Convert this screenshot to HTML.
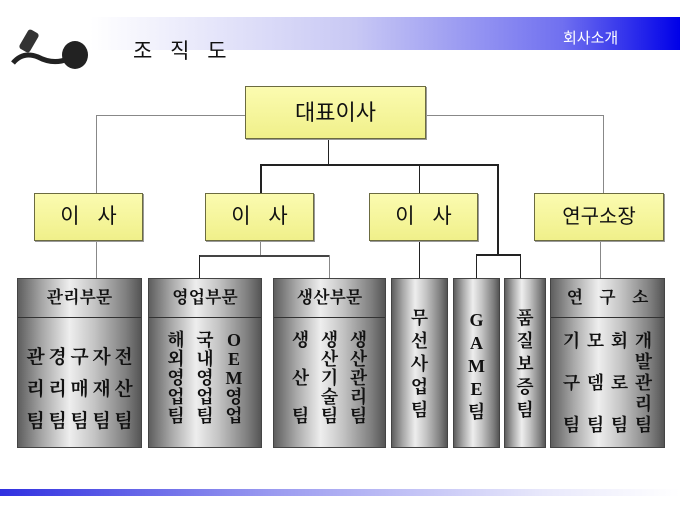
<!DOCTYPE html>
<html><head><meta charset="utf-8"><style>
body{margin:0;width:680px;height:510px;background:#fff;position:relative;overflow:hidden;font-family:"Liberation Sans","Noto Sans CJK KR",sans-serif}
.a{position:absolute}
.y{position:absolute;background:linear-gradient(#fbfbb0,#f0f08a);border:1px solid #6b6b40;box-shadow:1px 1px 0 #999;text-align:center;color:#111}
.c{position:absolute;border:1px solid #444;background:linear-gradient(90deg,#5e5e5e 0%,#a8a8a8 20%,#eeeeee 42%,#c4c4c4 62%,#7e7e7e 88%,#555 100%);font-family:"Liberation Serif","Noto Serif CJK SC","Noto Sans CJK KR",serif;font-weight:bold;color:#111;text-align:center}
.h{border-bottom:1px solid #333;height:38px;line-height:38px;font-size:17px}
.l{position:absolute;background:#222}
.g{background:#888}
table{border-collapse:collapse;margin:0 auto}
td{padding:0;text-align:center;vertical-align:middle}
</style></head><body>
<div class="a" style="left:90px;top:17px;width:590px;height:33px;background:linear-gradient(90deg,#fff,#c8c8f4 45%,#7070f0 80%,#0000e8)"></div>
<div class="a" style="left:563px;top:27px;color:#fff;font-size:15px">회사소개</div>
<div class="a" style="left:133px;top:35px;font-size:21px;color:#111;word-spacing:12px">조 직 도</div>
<svg class="a" style="left:5px;top:25px" width="85" height="50"><path d="M8 38 q10 -12 25 -6 q15 8 30 2" stroke="#222" stroke-width="5" fill="none"/><rect x="18" y="5" width="12" height="22" rx="3" fill="#333" transform="rotate(30 24 16)"/><ellipse cx="70" cy="30" rx="13" ry="14" fill="#222"/></svg>
<div class="a" style="left:0;top:489px;width:680px;height:7px;background:linear-gradient(90deg,#3030e0,#9a9af0 40%,#e8e8fb 80%,#fff)"></div>
<div class="l g" style="left:96px;top:115px;width:508px;height:1px"></div>
<div class="l g" style="left:96px;top:115px;width:1px;height:78px"></div>
<div class="l g" style="left:603px;top:115px;width:1px;height:78px"></div>
<div class="l" style="left:328px;top:138px;width:1px;height:27px"></div>
<div class="l" style="left:260px;top:164px;width:239px;height:2px"></div>
<div class="l" style="left:260px;top:164px;width:2px;height:29px"></div>
<div class="l" style="left:419px;top:164px;width:1px;height:29px"></div>
<div class="l" style="left:497px;top:164px;width:2px;height:91px"></div>
<div class="l" style="left:476px;top:254px;width:45px;height:2px"></div>
<div class="l" style="left:476px;top:254px;width:1px;height:24px"></div>
<div class="l" style="left:520px;top:254px;width:1px;height:24px"></div>
<div class="l g" style="left:96px;top:240px;width:1px;height:38px"></div>
<div class="l g" style="left:260px;top:240px;width:1px;height:15px"></div>
<div class="l" style="left:199px;top:255px;width:131px;height:2px;background:#444"></div>
<div class="l" style="left:199px;top:255px;width:1px;height:23px"></div>
<div class="l g" style="left:329px;top:255px;width:1px;height:23px"></div>
<div class="l" style="left:419px;top:240px;width:1px;height:38px"></div>
<div class="l g" style="left:600px;top:240px;width:1px;height:38px"></div>
<div class="y" style="left:245px;top:86px;width:179px;height:51px;line-height:51px;font-size:22px">대표이사</div>
<div class="y" style="left:34px;top:193px;width:107px;height:46px;line-height:46px;font-size:21px;word-spacing:12px">이 사</div>
<div class="y" style="left:205px;top:193px;width:107px;height:46px;line-height:46px;font-size:21px;word-spacing:12px">이 사</div>
<div class="y" style="left:369px;top:193px;width:107px;height:46px;line-height:46px;font-size:21px;word-spacing:12px">이 사</div>
<div class="y" style="left:534px;top:193px;width:128px;height:46px;line-height:46px;font-size:20px">연구소장</div>

<div class="c" style="left:17px;top:278px;width:123px;height:168px"><div class="h">관리부문</div>
<table style="margin-top:21px;font-size:19px"><tr style="height:32px"><td style="width:22px">관</td><td style="width:22px">경</td><td style="width:22px">구</td><td style="width:22px">자</td><td style="width:22px">전</td></tr><tr style="height:32px"><td>리</td><td>리</td><td>매</td><td>재</td><td>산</td></tr><tr style="height:32px"><td>팀</td><td>팀</td><td>팀</td><td>팀</td><td>팀</td></tr></table></div>

<div class="c" style="left:148px;top:278px;width:112px;height:168px"><div class="h">영업부문</div>
<table style="margin-top:13px;font-size:18px;line-height:19px"><tr><td style="width:29px">해</td><td style="width:29px">국</td><td style="width:29px">O</td></tr><tr><td>외</td><td>내</td><td>E</td></tr><tr><td>영</td><td>영</td><td>M</td></tr><tr><td>업</td><td>업</td><td>영</td></tr><tr><td>팀</td><td>팀</td><td>업</td></tr></table></div>

<div class="c" style="left:273px;top:278px;width:111px;height:168px"><div class="h">생산부문</div>
<table style="margin-top:13px;font-size:18px;line-height:19px"><tr><td style="width:29px">생</td><td style="width:29px">생</td><td style="width:29px">생</td></tr><tr><td></td><td>산</td><td>산</td></tr><tr><td>산</td><td>기</td><td>관</td></tr><tr><td></td><td>술</td><td>리</td></tr><tr><td>팀</td><td>팀</td><td>팀</td></tr></table></div>

<div class="c" style="left:391px;top:278px;width:55px;height:168px"><div style="padding-top:28px;font-size:18px;line-height:23px">무<br>선<br>사<br>업<br>팀</div></div>
<div class="c" style="left:453px;top:278px;width:45px;height:168px"><div style="padding-top:30px;font-size:18px;line-height:23px">G<br>A<br>M<br>E<br>팀</div></div>
<div class="c" style="left:504px;top:278px;width:40px;height:168px"><div style="padding-top:28px;font-size:18px;line-height:23px">품<br>질<br>보<br>증<br>팀</div></div>

<div class="c" style="left:550px;top:278px;width:113px;height:168px"><div class="h" style="word-spacing:12px">연 구 소</div>
<table style="margin-top:13px;font-size:18px;line-height:21px"><tr><td style="width:24px">기</td><td style="width:24px">모</td><td style="width:24px">회</td><td style="width:24px">개</td></tr><tr><td></td><td></td><td></td><td>발</td></tr><tr><td>구</td><td>뎀</td><td>로</td><td>관</td></tr><tr><td></td><td></td><td></td><td>리</td></tr><tr><td>팀</td><td>팀</td><td>팀</td><td>팀</td></tr></table></div>
</body></html>
